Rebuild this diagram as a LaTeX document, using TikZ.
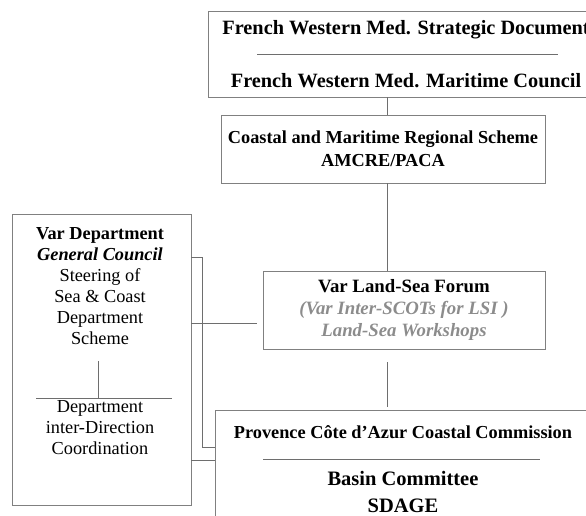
\documentclass[tikz,border=0pt]{standalone}
\usepackage{fontspec}
\setmainfont{Liberation Serif}
\usetikzlibrary{positioning,calc}
\definecolor{boxg}{RGB}{128,128,128}
\definecolor{lnkg}{RGB}{110,110,110}
\definecolor{notg}{RGB}{140,140,140}
\tikzset{
	every node/.style = { align = center },
	box/.style = { draw=boxg, line width=0.8pt, rectangle, inner sep=0pt },
	txt/.style = { font=\fontsize{18.3}{21}\selectfont },
	big/.style = { font=\fontsize{20.5}{27}\selectfont\bfseries },
	link/.style = { draw=lnkg, line width=0.8pt },
	sep/.style = { draw=lnkg, line width=0.8pt },
}
\begin{document}
\begin{tikzpicture}[x=1pt,y=-1pt]
\useasboundingbox (0,0) rectangle (586,515);
\clip (0,0) rectangle (586,515);

\node (sdoc)  [box,minimum width=396,minimum height=86,font=\fontsize{20.3}{53}\selectfont\bfseries] at (406,54)
	{French Western Med. Strategic Document \\ French Western Med. Maritime Council};
\node (amcre) [box,minimum width=324,minimum height=68,font=\fontsize{18.3}{23}\selectfont\bfseries] at (383,149)
	{Coastal and Maritime Regional Scheme \\ AMCRE/PACA};
\node (forum) [box,minimum width=282,minimum height=78,font=\fontsize{18.8}{22}\selectfont\bfseries] at (404,310)
	{Var Land-Sea Forum \\ \textcolor{notg}{\itshape (Var Inter-SCOTs for LSI )} \\ \textcolor{notg}{\itshape Land-Sea Workshops}};
\node (coast) [box,minimum width=374,minimum height=130,anchor=north west] at (215,410) {};
\node (pcac)  [txt,font=\fontsize{18.3}{21}\selectfont\bfseries] at (403,432) {Provence Côte d’Azur Coastal Commission};
\node (basin) [big] at (403,492) {Basin Committee \\ SDAGE};

\node (cg)    [box,minimum width=179,minimum height=291] at (101.5,359.5) {};
\node (cgtop) [txt] at (100,286) {\textbf{Var Department} \\ \textbf{\itshape General Council} \\ Steering of \\ Sea \& Coast \\ Department \\ Scheme};
\node (cgbot) [txt] at (100,428) {Department \\ inter-Direction \\ Coordination};

% separators inside the boxes
\draw[sep] ($(sdoc.center)+(-149,0)$) -- ($(sdoc.center)+(152,0)$);
\draw[sep] ($(pcac.center)+(-140,27)$) -- ($(pcac.center)+(137,27)$);
\draw[sep] (98,361) -- (98,398);
\draw[sep] (36,398) -- (172,398);

% links
\coordinate (spine) at (387,0);
\draw[link] (sdoc.south -| spine)  -- (amcre.north -| spine);
\draw[link] (amcre.south -| spine) -- (forum.north -| spine);
\draw[link,shorten <=13pt,shorten >=3pt] (forum.south -| spine) -- (coast.north -| spine);
\draw[link] (cg.east |- 0,257) -- ++(11,0) |- (coast.west |- 0,447);
\draw[link,shorten >=6pt] (cg.east |- 0,323) -- (forum.west |- 0,323);
\draw[link] (cg.east |- 0,460) -- (coast.west |- 0,460);

\end{tikzpicture}
\end{document}
